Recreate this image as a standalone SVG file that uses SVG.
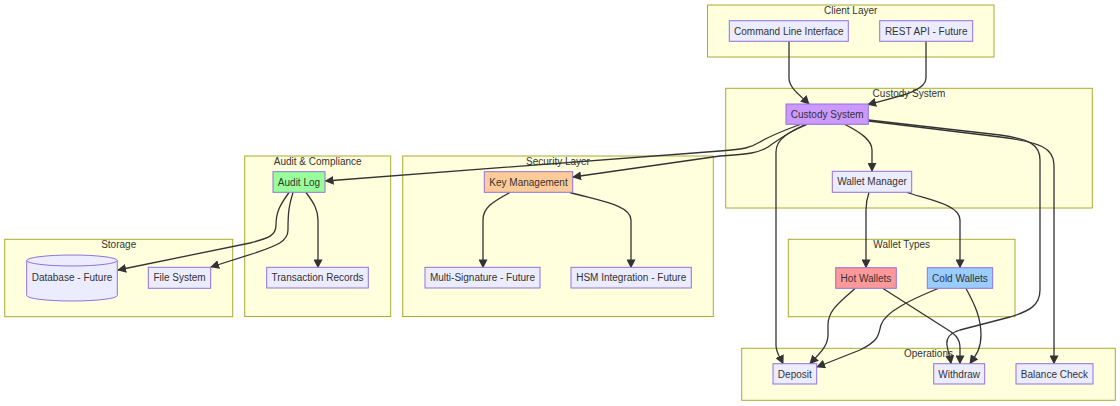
<svg xmlns="http://www.w3.org/2000/svg" width="1120" height="406" viewBox="0 0 1120 406">
<defs>
<marker id="arr" viewBox="0 0 10 10" refX="9" refY="5" markerUnits="userSpaceOnUse" markerWidth="9" markerHeight="9" orient="auto">
<path d="M0,0 L10,5 L0,10 z" fill="#333333"/>
</marker>
<style>
.cl{fill:#ffffde;stroke:#aaaa33;stroke-width:1}
.ct{font-family:"Liberation Sans",Arial,sans-serif;font-size:10px;fill:#333333;text-anchor:middle}
.n{fill:#ececff;stroke:#9370db;stroke-width:1}
.t{font-family:"Liberation Sans",Arial,sans-serif;font-size:10px;fill:#333333;text-anchor:middle}
.e{fill:none;stroke:#333333;stroke-width:1.3;marker-end:url(#arr)}
</style>
</defs>
<rect width="1120" height="406" fill="#ffffff"/>
<g id="clusters">
<g id="cluster-client"><rect class="cl" x="707.5" y="5" width="286.5" height="52"/><text class="ct" x="850.7" y="14">Client Layer</text></g>
<g id="cluster-custody"><rect class="cl" x="725.7" y="88.3" width="366.6" height="119.7"/><text class="ct" x="909" y="97">Custody System</text></g>
<g id="cluster-audit"><rect class="cl" x="244.7" y="156" width="146" height="160.5"/><text class="ct" x="317.7" y="165">Audit &amp; Compliance</text></g>
<g id="cluster-security"><rect class="cl" x="402.7" y="156" width="310.6" height="160.5"/><text class="ct" x="558" y="165">Security Layer</text></g>
<g id="cluster-storage"><rect class="cl" x="4.7" y="239.3" width="228" height="77.4"/><text class="ct" x="118.7" y="248">Storage</text></g>
<g id="cluster-wallettypes"><rect class="cl" x="788.3" y="239.3" width="226.7" height="77.4"/><text class="ct" x="901.7" y="248">Wallet Types</text></g>
<g id="cluster-operations"><rect class="cl" x="741.7" y="348.3" width="373.6" height="52"/><text class="ct" x="928.5" y="357">Operations</text></g>
</g>
<g id="connectors">
<path class="e" d="M789,41.5 L789,78 C789,88 800,95 809,104"/>
<path class="e" d="M926,41.5 L926,78 C926,92 895,97 868,104.5"/>
<path class="e" d="M800,124.5 C785,130 770,136 760,142 C750,148 745,149 720,151 L325.5,181"/>
<path class="e" d="M805,124.5 C790,131 778,140 768,147 C758,153 750,154 720,156 L573,177"/>
<path class="e" d="M845,124.5 C860,132 872,140 872,150 L872,171"/>
<path class="e" d="M807,124.5 C790,132 776,138 776,152 L776,345 C776,353 780,357 783,363.5"/>
<path class="e" d="M868.5,120 L1000,135 C1030,139 1040,145 1040,160 L1040,290 C1040,305 1030,311 1010,317 L960,330 C950,333 946,338 947,345 C948,352 950,357 951,363.5"/>
<path class="e" d="M868.5,121 L1000,137 C1040,142 1054,148 1054,165 L1054,363.5"/>
<path class="e" d="M869,192.5 C867,198 866,202 866,210 L866,267.5"/>
<path class="e" d="M907,192.5 C930,200 960,205 960,220 L960,267.5"/>
<path class="e" d="M855,288.5 C840,302 828,310 828,325 L828,335 C828,347 818,355 810,363.5"/>
<path class="e" d="M883,288.5 L945,328 C955,334 960,338 960,348 L960,363.5"/>
<path class="e" d="M938,288.5 C910,300 885,312 881,325 C878,335 880,340 860,350 L817,367"/>
<path class="e" d="M966,288.5 C975,305 981,318 981,335 C981,350 975,356 970,363.5"/>
<path class="e" d="M289,192.5 C280,205 276,212 276,225 C276,235 270,238 250,243 L118,270"/>
<path class="e" d="M293,192.5 C289,205 288,212 288,230 C288,242 275,246 255,253 L211,267"/>
<path class="e" d="M306,192.5 C314,203 318,210 318,220 L318,267.5"/>
<path class="e" d="M510,192.5 C492,202 483,208 483,220 L483,267.5"/>
<path class="e" d="M570,192.5 C600,201 631,205 631,220 L631,267.5"/>
</g>
<g id="node-cli"><rect class="n" x="729.3" y="20.7" width="119" height="20.6"/><text class="t" x="788.8" y="34.5">Command Line Interface</text></g>
<g id="node-rest"><rect class="n" x="879.7" y="20.7" width="93" height="20.6"/><text class="t" x="926.2" y="34.5">REST API - Future</text></g>
<g id="node-custody"><rect class="n" style="fill:#cc99ff" x="786" y="104" width="82.3" height="20.3"/><text class="t" x="827.2" y="117.7">Custody System</text></g>
<g id="node-walletmgr"><rect class="n" x="832.3" y="171.3" width="79.4" height="21"/><text class="t" x="872" y="185.3">Wallet Manager</text></g>
<g id="node-auditlog"><rect class="n" style="fill:#99ff99" x="273" y="171.7" width="52" height="20.6"/><text class="t" x="299" y="185.5">Audit Log</text></g>
<g id="node-txrecords"><rect class="n" x="266.7" y="267.3" width="101.6" height="20.7"/><text class="t" x="317.5" y="281.2">Transaction Records</text></g>
<g id="node-keymgmt"><rect class="n" style="fill:#ffcc99" x="484.3" y="171.7" width="88.4" height="20.6"/><text class="t" x="528.5" y="185.5">Key Management</text></g>
<g id="node-multisig"><rect class="n" x="425" y="267.3" width="115" height="20.7"/><text class="t" x="482.5" y="281.2">Multi-Signature - Future</text></g>
<g id="node-hsm"><rect class="n" x="571" y="267.3" width="120.3" height="20.7"/><text class="t" x="631.2" y="281.2">HSM Integration - Future</text></g>
<g id="node-database"><path class="n" d="M26.7,260.5 A45.3,5.5 0 0 0 117.3,260.5 A45.3,5.5 0 0 0 26.7,260.5 L26.7,295.5 A45.3,5.5 0 0 0 117.3,295.5 L117.3,260.5"/><text class="t" x="72" y="281">Database - Future</text></g>
<g id="node-filesystem"><rect class="n" x="148.3" y="267.3" width="62.4" height="21"/><text class="t" x="179.5" y="281.3">File System</text></g>
<g id="node-hot"><rect class="n" style="fill:#ff9999" x="835.7" y="267.7" width="60.6" height="20.6"/><text class="t" x="866" y="281.5">Hot Wallets</text></g>
<g id="node-cold"><rect class="n" style="fill:#99ccff" x="927.3" y="267.7" width="65.4" height="20.6"/><text class="t" x="960" y="281.5">Cold Wallets</text></g>
<g id="node-deposit"><rect class="n" x="773" y="363.7" width="43.7" height="20.3"/><text class="t" x="794.8" y="377.5">Deposit</text></g>
<g id="node-withdraw"><rect class="n" x="933.7" y="363.7" width="51" height="20.3"/><text class="t" x="959.2" y="377.5">Withdraw</text></g>
<g id="node-balance"><rect class="n" x="1016" y="363.7" width="77" height="20.3"/><text class="t" x="1054.5" y="377.5">Balance Check</text></g>
</svg>
